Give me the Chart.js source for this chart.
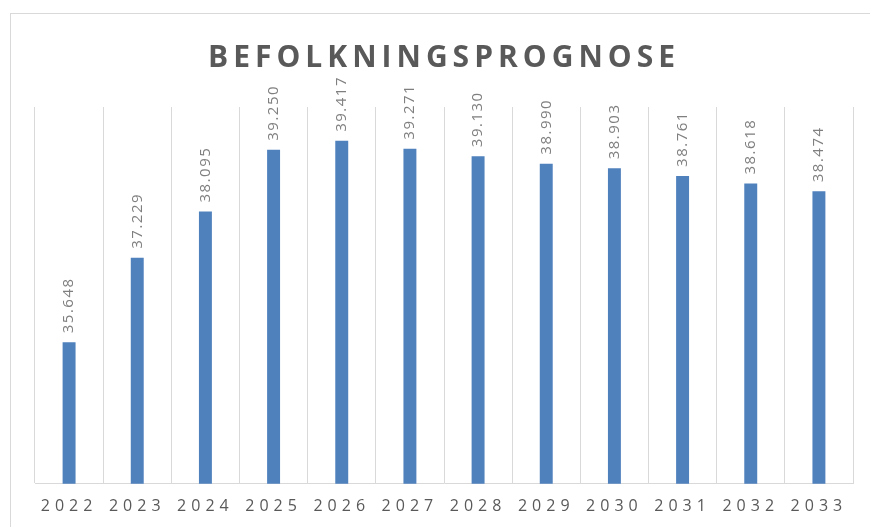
<!DOCTYPE html>
<html>
<head>
<meta charset="utf-8">
<script src="https://cdn.jsdelivr.net/npm/chart.js@4"></script>
<style>
  html, body { margin: 0; padding: 0; background: #fff; }
  #wrap { position: relative; width: 870px; height: 527px; }
  #frame {
    position: absolute; left: 10px; top: 13px; right: 0; bottom: 0;
    border-top: 1px solid #d9d9d9; border-left: 1px solid #d9d9d9;
    pointer-events: none;
  }
</style>
</head>
<body>
<div id="wrap">
  <canvas id="prognose"></canvas>
  <div id="frame"></div>
</div>
<script>
const years = ['2022', '2023', '2024', '2025', '2026', '2027', '2028', '2029', '2030', '2031', '2032', '2033'];
const population = [35648, 37229, 38095, 39250, 39417, 39271, 39130, 38990, 38903, 38761, 38618, 38474];
const chartTitle = 'BEFOLKNINGSPROGNOSE';

function formatNumber(value) {
  // tusenskille med punktum
  return String(value).replace(/\B(?=(\d{3})+(?!\d))/g, '.');
}

// bredere bokstavavstand for tittel og akse
const spacing = {
  id: 'spacing',
  beforeDraw(chart) {
    chart.ctx.letterSpacing = '5px';
  },
  afterDraw(chart) {
    chart.ctx.letterSpacing = '0px';
  }
};

const barLabels = {
  id: 'barLabels',
  afterDatasetsDraw(chart) {
    const ctx = chart.ctx;
    const meta = chart.getDatasetMeta(0);
    ctx.save();
    ctx.font = '15px "Open Sans"';
    ctx.fillStyle = '#7f7f7f';
    ctx.letterSpacing = '1.5px';
    ctx.textAlign = 'left';
    ctx.textBaseline = 'middle';
    meta.data.forEach((bar, i) => {
      ctx.save();
      ctx.translate(bar.x, bar.y - 9);
      ctx.rotate(-Math.PI / 2);
      ctx.fillText(formatNumber(population[i]), 0, 0);
      ctx.restore();
    });
    ctx.restore();
  }
};

new Chart(document.getElementById('prognose'), {
  type: 'bar',
  data: {
    labels: years,
    datasets: [
      {
        data: population,
        backgroundColor: '#4f81bd',
        barPercentage: 0.38,
        categoryPercentage: 0.5,
      },
    ],
  },
  options: {
    responsive: true,
    maintainAspectRatio: false,
    animation: false,
    layout: {
      padding: { left: 35, right: 17, top: 0, bottom: -2 },
    },
    plugins: {
      legend: { display: false },
      tooltip: { enabled: false },
      title: {
        display: true,
        text: chartTitle,
        color: '#595959',
        font: { family: '"Open Sans"', size: 30, weight: 'bold' },
        padding: { top: 40, bottom: 31 },
      },
    },
    scales: {
      x: {
        grid: { color: '#d9d9d9', drawTicks: false, offset: true },
        border: { color: '#d9d9d9' },
        ticks: {
          color: '#595959',
          font: { family: '"Open Sans"', size: 16 },
          padding: 13,
          maxRotation: 0,
          autoSkip: false,
        },
      },
      y: {
        display: false,
        min: 33000,
        max: 40050,
      },
    },
  },
  plugins: [spacing, barLabels],
});
</script>
</body>
</html>
